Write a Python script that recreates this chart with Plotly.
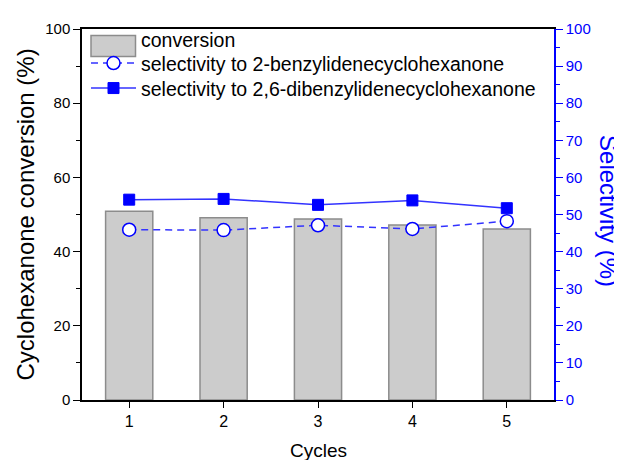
import plotly.graph_objects as go

cycles = [1, 2, 3, 4, 5]
conversion = [50.9, 49.1, 48.8, 47.2, 46.1]
sel_mono = [45.9, 45.8, 47.1, 46.1, 48.2]
sel_di = [54.0, 54.2, 52.6, 53.8, 51.7]

FONT = "Liberation Sans, Arial, sans-serif"
BLUE = "#0000ff"
LBLUE = "#3333ff"

# page body has an 8px margin; compensate so the plot area sits at x 82..554, y 22..400
W, H = 614, 452
ML, MR, MT, MB = 74, 68, 14, 60
PW = W - ML - MR
PH = H - MT - MB


def px_x(x):
    return (x - 8 - ML) / PW


def px_y(y):
    return (H - MB - (y - 8)) / PH


fig = go.Figure()
fig.add_trace(go.Bar(x=cycles, y=conversion, name="conversion", width=0.5, showlegend=False,
                     marker=dict(color="#cccccc", line=dict(color="#8c8c8c", width=1.5))))
# legend-only entry for the bars (symbol drawn as a wide box below)
fig.add_trace(go.Scatter(x=[None], y=[None], name="conversion", mode="markers",
                         marker=dict(color="rgba(0,0,0,0)", size=1), legend="legend"))
fig.add_trace(go.Scatter(x=cycles, y=sel_mono, name="selectivity to 2-benzylidenecyclohexanone",
                         yaxis="y2", mode="lines+markers", legend="legend2",
                         line=dict(color=LBLUE, width=1.5, dash="7px,5px"),
                         marker=dict(symbol="circle", size=13, color="white",
                                     line=dict(color=BLUE, width=1.5))))
fig.add_trace(go.Scatter(x=cycles, y=sel_di, name="selectivity to 2,6-dibenzylidenecyclohexanone",
                         yaxis="y2", mode="lines+markers", legend="legend3",
                         line=dict(color=LBLUE, width=1.5),
                         marker=dict(symbol="square", size=11, color=BLUE,
                                     line=dict(color=BLUE, width=1))))

LEG = dict(x=px_x(86), xanchor="left", yanchor="middle",
           bgcolor="rgba(0,0,0,0)", font=dict(size=19.5), itemwidth=45)

fig.update_layout(
    width=W, height=H,
    margin=dict(l=ML, r=MR, t=MT, b=MB),
    paper_bgcolor="white", plot_bgcolor="white",
    font=dict(family=FONT, color="black", size=15),
    showlegend=True,
    legend=dict(LEG, y=px_y(33)),
    legend2=dict(LEG, y=px_y(57)),
    legend3=dict(LEG, y=px_y(82.5)),
    xaxis=dict(range=[0.5, 5.5], tickvals=cycles, ticktext=[str(c) for c in cycles],
               ticks="outside", ticklen=6, tickwidth=1.2, tickcolor="black",
               showline=True, linecolor="black", linewidth=1.5, mirror=True,
               showgrid=False, zeroline=False, tickfont=dict(size=16)),
    yaxis=dict(range=[0, 100], dtick=20, ticks="outside", ticklen=7, tickwidth=1.2,
               tickcolor="black", showline=True, linecolor="black", linewidth=1.5,
               showgrid=False, zeroline=False, tickfont=dict(size=15),
               minor=dict(dtick=10, ticks="outside", ticklen=4, tickcolor="black", showgrid=False)),
    yaxis2=dict(range=[0, 100], dtick=10, overlaying="y", side="right",
                ticks="outside", ticklen=7, tickwidth=1.2, tickcolor=BLUE,
                showline=True, linecolor=BLUE, linewidth=1.5,
                showgrid=False, zeroline=False, tickfont=dict(size=15, color=BLUE),
                minor=dict(dtick=5, ticks="outside", ticklen=4, tickcolor=BLUE, showgrid=False)),
    shapes=[
        dict(type="rect", xref="paper", yref="paper",
             x0=px_x(91), x1=px_x(135.5), y0=px_y(50), y1=px_y(28.5),
             fillcolor="#cccccc", line=dict(color="#8c8c8c", width=1.5), layer="above"),
    ],
    annotations=[
        dict(text="Cyclohexanone conversion (%)", xref="paper", yref="paper",
             x=px_x(25), y=0.5, textangle=-90, showarrow=False,
             font=dict(size=24, color="black"), xanchor="center", yanchor="middle"),
        dict(text="Selectivity (%)", xref="paper", yref="paper",
             x=px_x(609), y=px_y(207.5), textangle=90, showarrow=False,
             font=dict(size=24, color=BLUE), xanchor="center", yanchor="middle"),
        dict(text="Cycles", xref="paper", yref="paper",
             x=px_x(318), y=px_y(451), showarrow=False,
             font=dict(size=19, color="black"), xanchor="center", yanchor="middle"),
    ],
)

fig.write_html("out.html")
